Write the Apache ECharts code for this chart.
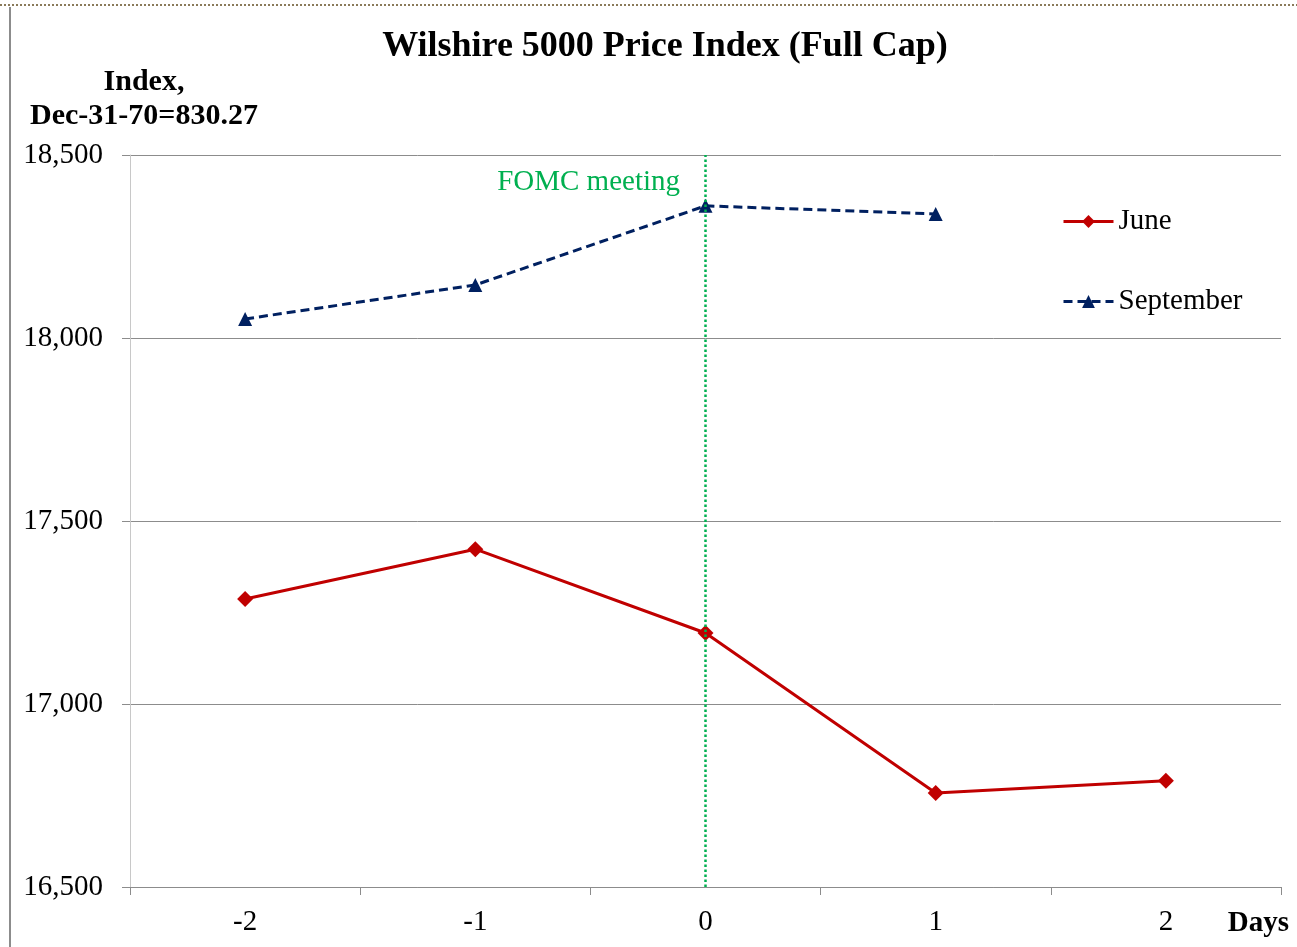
<!DOCTYPE html>
<html>
<head>
<meta charset="utf-8">
<script src="https://cdn.jsdelivr.net/npm/echarts@6/dist/echarts.min.js"></script>
<style>
html, body { margin: 0; padding: 0; background: #fff; }
#chart { width: 1297px; height: 947px; }
</style>
</head>
<body>
<div id="chart"></div>
<script>
var days = ['-2', '-1', '0', '1', '2'];
var juneValues = [17287, 17423, 17194, 16757, 16790];
var septValues = [18052, 18145, 18361, 18339, null];
var yTicks = { min: 16500, max: 18500, step: 500 };
var meetingDay = '0';

var serif = 'Liberation Serif';

var chart = echarts.init(document.getElementById('chart'));

var option = {
    backgroundColor: '#fff',
    animation: false,
    title: [{
        text: 'Wilshire 5000 Price Index (Full Cap)',
        left: 660,
        top: 24,
        textAlign: 'center',
        textStyle: { fontFamily: serif, fontSize: 36, fontWeight: 'bold', color: '#000' }
    }, {
        text: 'Index,\nDec-31-70=830.27',
        left: 139,
        top: 60,
        textAlign: 'center',
        textStyle: { fontFamily: serif, fontSize: 30, fontWeight: 'bold', color: '#000', lineHeight: 34 }
    }],
    legend: {
        orient: 'vertical',
        left: 1057,
        top: 202,
        itemWidth: 50,
        itemHeight: 16,
        itemGap: 51,
        lineStyle: { width: 3 },
        textStyle: { fontFamily: serif, fontSize: 29, color: '#000' },
        data: ['June', 'September']
    },
    grid: { left: 130, right: 16, top: 155, bottom: 60 },
    xAxis: {
        type: 'category',
        data: days,
        boundaryGap: true,
        name: 'Days',
        nameLocation: 'end',
        nameGap: 8,
        nameTextStyle: { fontFamily: serif, fontSize: 29, fontWeight: 'bold', color: '#000',
            align: 'right', verticalAlign: 'top', padding: [22, 0, 0, 0] },
        axisLine: { lineStyle: { color: '#8c8c8c', width: 1 } },
        axisTick: { show: true, length: 8, inside: false, lineStyle: { color: '#8c8c8c' } },
        axisLabel: { fontFamily: serif, fontSize: 29, color: '#000', margin: 21 }
    },
    yAxis: {
        type: 'value',
        min: yTicks.min,
        max: yTicks.max,
        interval: yTicks.step,
        axisLine: { show: true, lineStyle: { color: '#c8c8c8', width: 1 } },
        axisTick: { show: true, length: 8, lineStyle: { color: '#8c8c8c' } },
        splitLine: { lineStyle: { color: '#8c8c8c', width: 1 } },
        axisLabel: {
            fontFamily: serif, fontSize: 29, color: '#000', margin: 27,
            formatter: function (v) { return v.toLocaleString('en-US'); }
        }
    },
    series: [{
        name: 'June',
        type: 'line',
        data: juneValues,
        symbol: 'diamond',
        symbolSize: 16,
        itemStyle: { color: '#c00000' },
        lineStyle: { color: '#c00000', width: 3 },
        markLine: {
            silent: true,
            symbol: 'none',
            label: { show: false },
            lineStyle: { color: '#00b050', type: 'dotted', width: 2.5 },
            data: [{ xAxis: meetingDay }]
        },
        z: 3
    }, {
        name: 'September',
        type: 'line',
        data: septValues,
        symbol: 'triangle',
        symbolSize: 14,
        itemStyle: { color: '#002060' },
        lineStyle: { color: '#002060', width: 3, type: [9, 5] },
        z: 3
    }],
    graphic: [{
        type: 'text',
        style: { text: 'FOMC meeting', x: 680, y: 182, align: 'right', verticalAlign: 'middle',
            fontFamily: serif, fontSize: 29, fill: '#00b050' }
    }, {
        type: 'line',
        shape: { x1: 10, y1: 7, x2: 10, y2: 947 },
        style: { stroke: '#8c8c8c', lineWidth: 2 }
    }, {
        type: 'line',
        shape: { x1: 0, y1: 5, x2: 1297, y2: 5 },
        style: { stroke: '#8a7a5a', lineWidth: 2, lineDash: [2, 2] }
    }]
};

chart.setOption(option);
</script>
</body>
</html>
